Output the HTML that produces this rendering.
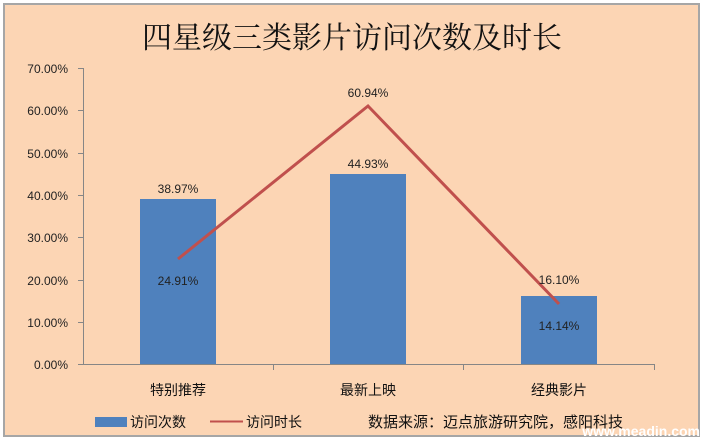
<!DOCTYPE html>
<html><head><meta charset="utf-8"><style>
body{margin:0;background:#fff;}
svg text{font-family:"Liberation Sans","Noto Sans CJK SC",sans-serif;}
</style></head><body>
<svg width="703" height="442" xmlns="http://www.w3.org/2000/svg">
<rect x="0" y="0" width="703" height="442" fill="#fff"/>
<rect x="4" y="4" width="695" height="432" fill="#FCD5B4" stroke="#a6a6a6" stroke-width="2"/>
<text x="352" y="48" text-anchor="middle" font-size="30" style="font-family:'Noto Serif CJK SC',serif" fill="#111">四星级三类影片访问次数及时长</text>
<g stroke="#868686" stroke-width="1">
<line x1="83.5" y1="68" x2="83.5" y2="364"/>
<line x1="83" y1="364.5" x2="655" y2="364.5"/>
<line x1="78" y1="68.5" x2="83" y2="68.5"/><line x1="78" y1="110.5" x2="83" y2="110.5"/>
<line x1="78" y1="153.5" x2="83" y2="153.5"/><line x1="78" y1="195.5" x2="83" y2="195.5"/>
<line x1="78" y1="237.5" x2="83" y2="237.5"/><line x1="78" y1="280.5" x2="83" y2="280.5"/>
<line x1="78" y1="322.5" x2="83" y2="322.5"/><line x1="78" y1="364.5" x2="83" y2="364.5"/>
<line x1="273.5" y1="364" x2="273.5" y2="370"/><line x1="463.5" y1="364" x2="463.5" y2="370"/><line x1="654.5" y1="364" x2="654.5" y2="370"/>
</g>
<g font-size="12" fill="#222" text-anchor="end">
<text x="68" y="73">70.00%</text><text x="68" y="115">60.00%</text><text x="68" y="158">50.00%</text>
<text x="68" y="200">40.00%</text><text x="68" y="242">30.00%</text><text x="68" y="285">20.00%</text>
<text x="68" y="327">10.00%</text><text x="68" y="369">0.00%</text>
</g>
<g fill="#4F81BD">
<rect x="140" y="199" width="76" height="165"/>
<rect x="330" y="174" width="76" height="190"/>
<rect x="521" y="296" width="76" height="68"/>
</g>
<polyline points="178,259 368,106 559,304" fill="none" stroke="#C0504D" stroke-width="3"/>
<g font-size="12" fill="#222" text-anchor="middle">
<text x="178" y="193">38.97%</text><text x="368" y="168">44.93%</text><text x="559" y="284">16.10%</text>
<text x="178" y="285">24.91%</text><text x="368" y="97">60.94%</text><text x="559" y="330">14.14%</text>
</g>
<g font-size="14" fill="#111" text-anchor="middle">
<text x="178" y="395">特别推荐</text><text x="368" y="395">最新上映</text><text x="559" y="395">经典影片</text>
</g>
<rect x="95" y="417" width="32" height="10" fill="#4F81BD"/>
<text x="130" y="427" font-size="14" fill="#111">访问次数</text>
<line x1="210" y1="421.5" x2="243" y2="421.5" stroke="#C0504D" stroke-width="2"/>
<text x="246" y="427" font-size="14" fill="#111">访问时长</text>
<text x="368" y="427" font-size="15" fill="#111">数据来源：迈点旅游研究院，感阳科技</text>
<text x="700" y="436" text-anchor="end" font-size="14" font-weight="bold" fill="#fff">www.meadin.com</text>
</svg>
</body></html>
